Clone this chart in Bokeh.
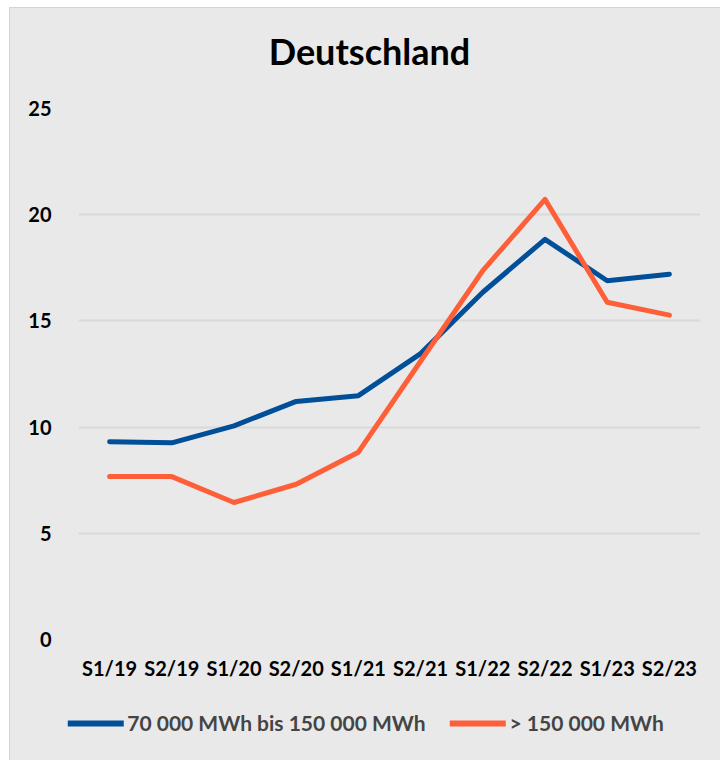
from bokeh.plotting import figure
from bokeh.layouts import column
from bokeh.models import Range1d, Legend, LegendItem, FixedTicker, Label
from bokeh.embed import file_html
from bokeh.resources import INLINE

periods = ["S1/19", "S2/19", "S1/20", "S2/20", "S1/21", "S2/21", "S1/22", "S2/22", "S1/23", "S2/23"]
mid_band = [9.31, 9.26, 10.06, 11.21, 11.48, 13.46, 16.35, 18.84, 16.89, 17.2]
large = [7.67, 7.67, 6.45, 7.31, 8.82, 13.1, 17.37, 20.72, 15.88, 15.27]
series_labels = ["70 000 MWh bis 150 000 MWh", "> 150 000 MWh"]
y_ticks = [0, 5, 10, 15, 20, 25]
title_text = "Deutschland"

FONT = "Lato"
BG = "#e9e9e9"
BLUE = "#004f98"
ORANGE = "#ff5f38"
BORDER = "1px solid #d4d4d4"


def strip(height):
    f = figure(x_range=periods, y_range=Range1d(100, 101),
               frame_width=711, frame_height=height,
               output_backend="svg", toolbar_location=None,
               x_axis_location=None, y_axis_location=None, min_border=0)
    f.background_fill_alpha = 0
    f.border_fill_alpha = 0
    f.outline_line_color = None
    f.xgrid.grid_line_color = None
    f.ygrid.grid_line_color = None
    return f


# title strip
t = strip(80)
t.add_layout(Label(x=291, y=38, x_units="screen", y_units="screen", text=title_text,
                   text_align="center", text_baseline="middle",
                   text_font=FONT, text_font_size="36px", text_font_style="bold",
                   text_color="#000000"))

# main chart
p = figure(x_range=periods, y_range=Range1d(0, 25),
           frame_width=622, frame_height=531,
           output_backend="svg", toolbar_location=None,
           min_border_left=68, min_border_right=21, min_border_top=20, min_border_bottom=62)
p.background_fill_alpha = 0
p.border_fill_alpha = 0
p.outline_line_color = None

p.xgrid.grid_line_color = None
p.ygrid.grid_line_color = "#d9d9d9"
p.ygrid.grid_line_width = 2
p.yaxis.ticker = FixedTicker(ticks=y_ticks)

for ax in (p.xaxis, p.yaxis):
    ax.axis_line_color = None
    ax.major_tick_line_color = None
    ax.minor_tick_line_color = None
    ax.major_label_text_font = FONT
    ax.major_label_text_font_size = "20px"
    ax.major_label_text_font_style = "bold"
    ax.major_label_text_color = "#000000"
p.yaxis.major_label_standoff = 21
p.xaxis.major_label_standoff = 10

p.line(periods, mid_band, line_color=BLUE, line_width=5, line_cap="round", line_join="round")
p.line(periods, large, line_color=ORANGE, line_width=5, line_cap="round", line_join="round")

# legend strip below the chart
q = strip(60)
l1 = q.line(periods, mid_band, line_color=BLUE, line_width=6, line_cap="round")
l2 = q.line(periods, large, line_color=ORANGE, line_width=6, line_cap="round")

legend = Legend(items=[LegendItem(label=series_labels[0], renderers=[l1]),
                       LegendItem(label=series_labels[1], renderers=[l2])],
                orientation="horizontal", location="top_center",
                glyph_width=56, glyph_height=22, spacing=24, label_standoff=4,
                label_text_font=FONT, label_text_font_size="21px", label_text_font_style="bold",
                background_fill_alpha=0, border_line_color=None, margin=9, padding=0)
q.add_layout(legend, "center")

layout = column(t, p, q, spacing=0)
layout.margin = (7, 0, 0, 9)
layout.styles = {"background-color": BG, "border-left": BORDER, "border-top": BORDER}
open("out.html", "w").write(file_html(layout, INLINE))
